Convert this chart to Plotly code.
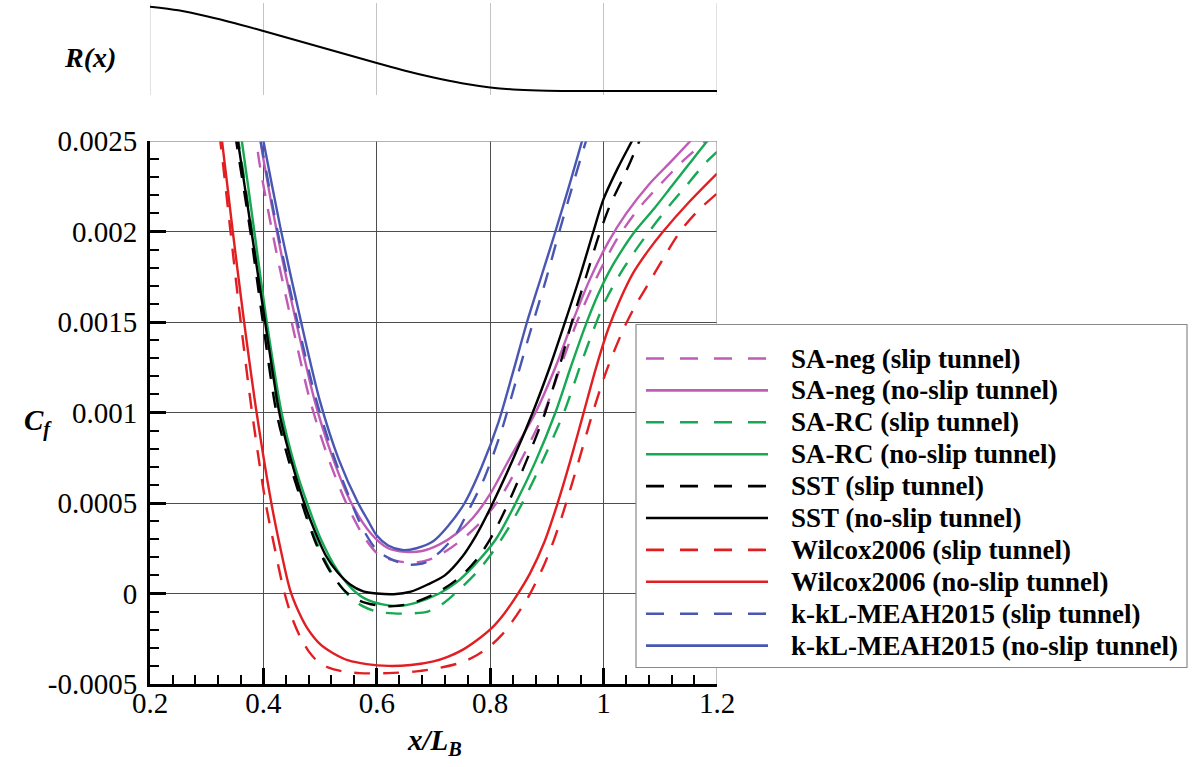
import plotly.graph_objects as go

# ---------------- data ----------------
R_x = [0.2, 0.25, 0.3, 0.35, 0.4, 0.45, 0.5, 0.55, 0.6, 0.65, 0.7, 0.75, 0.8, 0.85, 0.9, 0.95, 1.0, 1.1, 1.2]
R_y = [0.933, 0.897, 0.838, 0.768, 0.69, 0.61, 0.53, 0.45, 0.37, 0.292, 0.224, 0.167, 0.126, 0.102, 0.092, 0.09, 0.089, 0.089, 0.089]

saneg_slip_x = [0.385, 0.392, 0.422, 0.452, 0.482, 0.512, 0.546, 0.578, 0.605, 0.635, 0.665, 0.695, 0.725, 0.755, 0.785, 0.818, 0.855, 0.895, 0.925, 0.953, 0.99, 1.024, 1.06, 1.091, 1.14, 1.18, 1.21]
saneg_slip_y = [0.0026, 0.0024, 0.0019, 0.00147, 0.00107, 0.00077, 0.0005, 0.00031, 0.00021, 0.00018, 0.00017, 0.00019, 0.00024, 0.00031, 0.0004, 0.00053, 0.00074, 0.001, 0.00126, 0.0015, 0.00176, 0.00196, 0.00212, 0.00223, 0.00239, 0.0025, 0.00258]

saneg_noslip_x = [0.39, 0.40, 0.43, 0.46, 0.49, 0.52, 0.555, 0.59, 0.62, 0.65, 0.68, 0.71, 0.74, 0.77, 0.80, 0.835, 0.88, 0.915, 0.945, 0.975, 1.008, 1.04, 1.08, 1.12, 1.153, 1.17]
saneg_noslip_y = [0.0026, 0.0024, 0.0019, 0.00147, 0.00107, 0.00077, 0.0005, 0.00033, 0.00025, 0.00023, 0.000235, 0.00027, 0.00033, 0.00042, 0.00055, 0.00075, 0.001, 0.00125, 0.0015, 0.00173, 0.00194, 0.0021, 0.00226, 0.00239, 0.0025, 0.00256]

sarc_slip_x = [0.345, 0.356, 0.38, 0.402, 0.427, 0.447, 0.466, 0.48, 0.50, 0.525, 0.55, 0.575, 0.60, 0.63, 0.66, 0.69, 0.715, 0.745, 0.777, 0.80, 0.828, 0.86, 0.895, 0.93, 0.958, 0.985, 1.005, 1.03, 1.055, 1.078, 1.11, 1.145, 1.18, 1.2]
sarc_slip_y = [0.0027, 0.0025, 0.002, 0.0015, 0.001, 0.00074, 0.00053, 0.0004, 0.00024, 0.00009, -0.00001, -0.00007, -0.0001, -0.00011, -0.00011, -0.0001, -0.00006, 0.00002, 0.00012, 0.00021, 0.00034, 0.00052, 0.00075, 0.001, 0.00125, 0.00148, 0.00163, 0.00177, 0.00189, 0.00199, 0.00212, 0.00225, 0.00238, 0.00244]

sarc_noslip_x = [0.352, 0.362, 0.384, 0.406, 0.432, 0.455, 0.477, 0.50, 0.53, 0.555, 0.58, 0.61, 0.64, 0.67, 0.71, 0.74, 0.77, 0.81, 0.845, 0.88, 0.915, 0.942, 0.968, 0.99, 1.01, 1.033, 1.055, 1.09, 1.12, 1.15, 1.183, 1.2]
sarc_noslip_y = [0.0027, 0.0025, 0.002, 0.0015, 0.001, 0.00071, 0.0005, 0.00031, 0.00013, 0.00003, -0.00003, -0.00006, -0.000068, -0.00005, 0.0, 0.00006, 0.00015, 0.0003, 0.0005, 0.00073, 0.001, 0.00125, 0.00148, 0.00165, 0.00178, 0.0019, 0.002, 0.00213, 0.00225, 0.00237, 0.0025, 0.00256]

sst_slip_x = [0.342, 0.352, 0.377, 0.399, 0.423, 0.445, 0.46, 0.475, 0.495, 0.52, 0.545, 0.57, 0.60, 0.63, 0.66, 0.69, 0.72, 0.75, 0.779, 0.80, 0.82, 0.842, 0.87, 0.897, 0.92, 0.944, 0.969, 0.994, 1.012, 1.035, 1.059, 1.07]
sst_slip_y = [0.0027, 0.0025, 0.002, 0.0015, 0.001, 0.00073, 0.00058, 0.00043, 0.00026, 0.00011, 0.00001, -0.00004, -0.000065, -0.00007, -0.000055, -0.00002, 0.00003, 0.0001, 0.0002, 0.0003, 0.00042, 0.00057, 0.00078, 0.001, 0.00123, 0.0015, 0.00175, 0.002, 0.00215, 0.0023, 0.00247, 0.00255]

sst_noslip_x = [0.345, 0.355, 0.379, 0.403, 0.428, 0.44, 0.455, 0.472, 0.49, 0.51, 0.53, 0.553, 0.576, 0.60, 0.63, 0.66, 0.69, 0.72, 0.75, 0.775, 0.80, 0.84, 0.875, 0.905, 0.932, 0.958, 0.982, 1.0, 1.025, 1.05, 1.065]
sst_noslip_y = [0.0027, 0.0025, 0.002, 0.0015, 0.001, 0.00084, 0.00067, 0.0005, 0.00035, 0.00021, 0.00012, 0.00005, 0.000012, 0.0, -0.000004, 0.00001, 0.00005, 0.0001, 0.0002, 0.00032, 0.00047, 0.00074, 0.001, 0.00125, 0.0015, 0.00175, 0.002, 0.00218, 0.00235, 0.0025, 0.00259]

wil_slip_x = [0.315, 0.324, 0.342, 0.36, 0.38, 0.404, 0.42, 0.435, 0.45, 0.465, 0.48, 0.494, 0.515, 0.54, 0.57, 0.62, 0.67, 0.712, 0.75, 0.777, 0.80, 0.82, 0.84, 0.867, 0.894, 0.913, 0.932, 0.955, 0.98, 1.005, 1.035, 1.056, 1.077, 1.105, 1.135, 1.165, 1.2]
wil_slip_y = [0.0027, 0.0025, 0.002, 0.0015, 0.001, 0.0005, 0.00025, 0.00003, -0.00013, -0.00024, -0.00032, -0.00037, -0.00041, -0.00043, -0.00044, -0.00044, -0.00043, -0.00041, -0.00038, -0.00034, -0.00029, -0.00023, -0.00015, -0.00002, 0.00015, 0.0003, 0.00048, 0.00072, 0.00099, 0.00123, 0.00146, 0.00159, 0.0017, 0.00185, 0.002, 0.00211, 0.00221]

wil_noslip_x = [0.318, 0.327, 0.346, 0.366, 0.388, 0.414, 0.43, 0.447, 0.462, 0.477, 0.50, 0.523, 0.55, 0.582, 0.62, 0.66, 0.70, 0.725, 0.752, 0.78, 0.803, 0.825, 0.847, 0.87, 0.895, 0.918, 0.941, 0.964, 0.986, 1.008, 1.03, 1.052, 1.08, 1.105, 1.15, 1.2]
wil_noslip_y = [0.0027, 0.0025, 0.002, 0.0015, 0.001, 0.0005, 0.00025, 0.00002, -0.0001, -0.00019, -0.00028, -0.00033, -0.00037, -0.00039, -0.0004, -0.000395, -0.000375, -0.00035, -0.00031, -0.00025, -0.00019, -0.00011, -0.00001, 0.00011, 0.00028, 0.00049, 0.00073, 0.00099, 0.00124, 0.00146, 0.00163, 0.00177, 0.0019, 0.002, 0.00216, 0.00232]

kkl_slip_x = [0.385, 0.395, 0.425, 0.46, 0.494, 0.525, 0.553, 0.575, 0.60, 0.625, 0.655, 0.685, 0.715, 0.74, 0.762, 0.79, 0.82, 0.846, 0.872, 0.898, 0.922, 0.946, 0.969, 0.99]
kkl_slip_y = [0.00265, 0.0025, 0.002, 0.0015, 0.00106, 0.00075, 0.00052, 0.00036, 0.00024, 0.00019, 0.00016, 0.00017, 0.00024, 0.00033, 0.00046, 0.00064, 0.0009, 0.00118, 0.00146, 0.00173, 0.002, 0.00226, 0.0025, 0.0027]

kkl_noslip_x = [0.39, 0.40, 0.43, 0.465, 0.50, 0.533, 0.567, 0.585, 0.60, 0.62, 0.645, 0.67, 0.70, 0.725, 0.755, 0.785, 0.815, 0.84, 0.865, 0.89, 0.915, 0.94, 0.962, 0.98]
kkl_noslip_y = [0.00265, 0.0025, 0.00202, 0.00152, 0.00106, 0.00074, 0.0005, 0.0004, 0.00032, 0.000265, 0.00024, 0.00025, 0.00029, 0.00037, 0.0005, 0.0007, 0.00095, 0.00122, 0.0015, 0.00175, 0.002, 0.00226, 0.0025, 0.0027]

series_names = [
    "SA-neg (slip tunnel)", "SA-neg (no-slip tunnel)",
    "SA-RC (slip tunnel)", "SA-RC (no-slip tunnel)",
    "SST (slip tunnel)", "SST (no-slip tunnel)",
    "Wilcox2006 (slip tunnel)", "Wilcox2006 (no-slip tunnel)",
    "k-kL-MEAH2015 (slip tunnel)", "k-kL-MEAH2015 (no-slip tunnel)",
]
series_x = [saneg_slip_x, saneg_noslip_x, sarc_slip_x, sarc_noslip_x, sst_slip_x, sst_noslip_x,
            wil_slip_x, wil_noslip_x, kkl_slip_x, kkl_noslip_x]
series_y = [saneg_slip_y, saneg_noslip_y, sarc_slip_y, sarc_noslip_y, sst_slip_y, sst_noslip_y,
            wil_slip_y, wil_noslip_y, kkl_slip_y, kkl_noslip_y]

x_ticks = [0.2, 0.4, 0.6, 0.8, 1.0, 1.2]
x_ticktext = ["0.2", "0.4", "0.6", "0.8", "1", "1.2"]
y_ticks = [-0.0005, 0, 0.0005, 0.001, 0.0015, 0.002, 0.0025]
y_ticktext = ["-0.0005", "0", "0.0005", "0.001", "0.0015", "0.002", "0.0025"]

# ---------------- style ----------------
colors = ["#BF5CB5", "#BF5CB5", "#17A853", "#17A853", "#000000", "#000000",
          "#E11F22", "#E11F22", "#4A57B2", "#4A57B2"]
TRACE_DASH = "16px,13px"
LEG_DASH = "18px,16px"
dashes = [TRACE_DASH if i % 2 == 0 else "solid" for i in range(10)]
SERIF = "Liberation Serif, Times New Roman, Times, serif"

W, H = 1194, 767
ML, MR, MT, MB = 150, 477, 0, 83
PW, PH = W - ML - MR, H - MT - MB


def px2paper_x(px):
    return (px - ML) / PW


def px2paper_y(py):
    return (H - MB - py) / PH


fig = go.Figure()

fig.add_trace(go.Scatter(x=R_x, y=R_y, mode="lines", xaxis="x2", yaxis="y2",
                         line=dict(color="black", width=2, shape="spline", smoothing=0.8),
                         showlegend=False, hoverinfo="skip"))

for i in range(10):
    fig.add_trace(go.Scatter(
        x=series_x[i], y=series_y[i], mode="lines", name=series_names[i],
        line=dict(color=colors[i], width=2.4, dash=dashes[i], shape="spline", smoothing=0.8),
        showlegend=False))

axis_font = dict(family=SERIF, size=29, color="black")
fig.update_layout(
    width=W, height=H,
    margin=dict(l=ML, r=MR, t=MT, b=MB, autoexpand=False),
    paper_bgcolor="white", plot_bgcolor="white",
    xaxis=dict(domain=[0, 1], anchor="y", range=[0.2, 1.2], automargin=False,
               tickmode="array", tickvals=x_ticks, ticktext=x_ticktext,
               ticks="inside", ticklen=16, tickwidth=3, tickcolor="black",
               showline=True, linewidth=3, linecolor="black", mirror=False,
               showgrid=True, gridcolor="#4d4d4d", gridwidth=1, zeroline=False,
               tickfont=axis_font, ticklabelstandoff=-9,
               minor=dict(tick0=0.2, dtick=0.04, ticks="inside", ticklen=9, tickwidth=1.5,
                          tickcolor="black", showgrid=False)),
    yaxis=dict(domain=[0, px2paper_y(141)], anchor="x", range=[-0.0005, 0.0025], automargin=False,
               tickmode="array", tickvals=y_ticks, ticktext=y_ticktext,
               ticks="inside", ticklen=16, tickwidth=3, tickcolor="black",
               showline=True, linewidth=3, linecolor="black", mirror=False,
               showgrid=True, gridcolor="#4d4d4d", gridwidth=1, zeroline=False,
               tickfont=axis_font, ticklabelstandoff=4,
               minor=dict(tick0=0, dtick=0.0001, ticks="inside", ticklen=9, tickwidth=1.5,
                          tickcolor="black", showgrid=False)),
    xaxis2=dict(domain=[0, 1], anchor="y2", range=[0.2, 1.2], dtick=0.2, tick0=0.2, automargin=False,
                showticklabels=False, ticks="", showline=False, showgrid=True,
                gridcolor="#c4c4c4", gridwidth=1, zeroline=False),
    yaxis2=dict(domain=[px2paper_y(95), px2paper_y(3)], anchor="x2", range=[0.05, 0.97], automargin=False,
                showticklabels=False, ticks="", showline=False, showgrid=False, zeroline=False),
    showlegend=False,
)

annotations = [
    dict(text="<b><i>R(x)</i></b>", x=px2paper_x(90), y=px2paper_y(57), xref="paper", yref="paper",
         showarrow=False, font=dict(family=SERIF, size=28, color="black"), xanchor="center", yanchor="middle"),
    dict(text="<b><i>C<sub>f</sub></i></b>", x=px2paper_x(38), y=px2paper_y(422), xref="paper", yref="paper",
         showarrow=False, font=dict(family=SERIF, size=29, color="black"), xanchor="center", yanchor="middle"),
    dict(text="<b><i>x/L<sub>B</sub></i></b>", x=px2paper_x(434), y=px2paper_y(742), xref="paper", yref="paper",
         showarrow=False, font=dict(family=SERIF, size=29, color="black"), xanchor="center", yanchor="middle"),
]

# edge lines: light grid at both ends of the R(x) strip, lighter frame on top/right of Cf panel
shapes = [
    dict(type="line", xref="x2", yref="y2 domain", layer="below", x0=x_ticks[0], x1=x_ticks[0], y0=0, y1=1,
         line=dict(color="#c4c4c4", width=1)),
    dict(type="line", xref="x2", yref="y2 domain", layer="below", x0=x_ticks[-1], x1=x_ticks[-1], y0=0, y1=1,
         line=dict(color="#c4c4c4", width=1)),
    dict(type="line", xref="x", yref="y", layer="above", x0=0.2, x1=1.2, y0=0.0025, y1=0.0025,
         line=dict(color="#9a9a9a", width=1.3)),
    dict(type="line", xref="x", yref="y", layer="above", x0=1.2, x1=1.2, y0=-0.0005, y1=0.0025,
         line=dict(color="#9a9a9a", width=1.3)),
]

# legend box drawn manually (long line samples as in the original)
LB_L, LB_T, LB_R, LB_B = 636, 324.5, 1187, 667.5
shapes.append(dict(type="rect", xref="paper", yref="paper", layer="above",
                   x0=px2paper_x(LB_L), x1=px2paper_x(LB_R), y0=px2paper_y(LB_B), y1=px2paper_y(LB_T),
                   line=dict(color="#8a8a8a", width=1.2), fillcolor="white"))
ROW0, ROWSTEP = 358.5, 31.9
for i in range(10):
    yy = px2paper_y(ROW0 + i * ROWSTEP)
    shapes.append(dict(type="line", xref="paper", yref="paper", layer="above",
                       x0=px2paper_x(646), x1=px2paper_x(768), y0=yy, y1=yy,
                       line=dict(color=colors[i], width=2.6,
                                 dash=(LEG_DASH if i % 2 == 0 else "solid"))))
    annotations.append(dict(text=series_names[i], x=px2paper_x(789), y=yy, xref="paper", yref="paper",
                            showarrow=False, xanchor="left", yanchor="middle",
                            font=dict(family=SERIF, size=27, color="black", weight="bold")))

fig.update_layout(shapes=shapes, annotations=annotations)
fig.write_html("out.html", config={"displayModeBar": False},
               post_script="document.body.style.margin='0';document.body.style.overflow='hidden';")
